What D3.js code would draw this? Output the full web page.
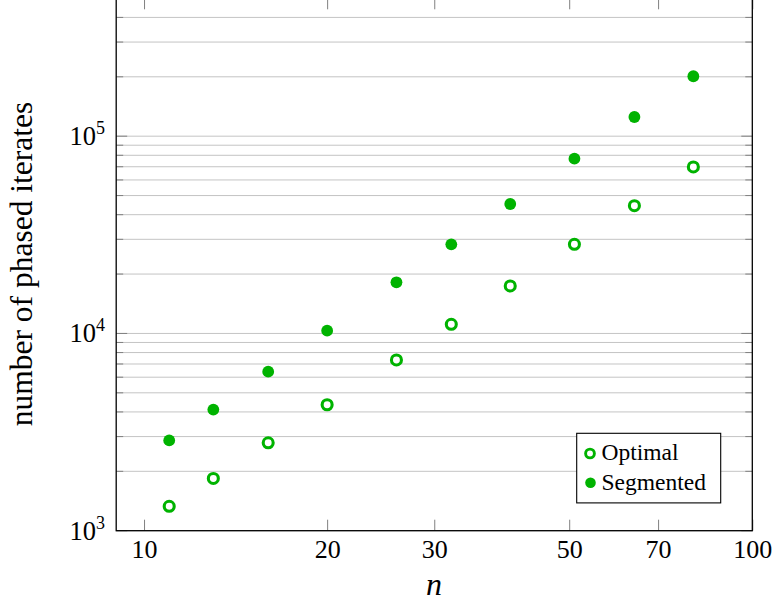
<!DOCTYPE html>
<html>
<head>
<meta charset="utf-8">
<script src="https://cdn.jsdelivr.net/npm/d3@7"></script>
<style>
  html, body { margin: 0; padding: 0; background: #fff; }
  svg { display: block; }
</style>
</head>
<body>
<svg id="chart" width="784" height="602"></svg>
<script>
// Problem sizes and iterate counts for the two methods
const nValues   = [11, 13, 16, 20, 26, 32, 40, 51, 64, 80];
const optimal   = [1330, 1840, 2790, 4350, 7340, 11130, 17400, 28300, 44400, 69800];
const segmented = [2870, 4110, 6400, 10330, 18170, 28300, 45300, 76900, 125100, 201300];
const xTickValues = [10, 20, 30, 50, 70, 100];
const yMajorTicks = [1e3, 1e4, 1e5];
const seriesNames = ["Optimal", "Segmented"];

const green = "#00b300";
const serif = "'Liberation Serif'";
const svg = d3.select("#chart");

const plotLeft = 116.2, plotRight = 752.3, plotBottom = 530.7, plotTop = -1.7;
const x = d3.scaleLog().domain([9, 100]).range([plotLeft, plotRight]);
const y = d3.scaleLog().domain([1e3, 5e5]).range([plotBottom, plotTop]);

// minor values 2..9 in each decade, plus the majors
const yMinor = [];
[1e3, 1e4, 1e5].forEach(b => { for (let k = 2; k <= 9; k++) if (b * k <= 5e5) yMinor.push(b * k); });
const yAll = yMajorTicks.concat(yMinor);

// horizontal grid
svg.append("g").selectAll("line").data(yAll).join("line")
  .attr("x1", plotLeft).attr("x2", plotRight)
  .attr("y1", d => y(d)).attr("y2", d => y(d))
  .attr("stroke", "#c4c4c4").attr("stroke-width", 1);

// x ticks (bottom, inward) with labels
const xAxis = svg.append("g").attr("transform", `translate(0,${plotBottom})`)
  .call(d3.axisBottom(x).tickValues(xTickValues).tickFormat(d3.format("d"))
    .tickSizeInner(-11).tickSizeOuter(0).tickPadding(0));
xAxis.attr("font-family", null).attr("font-size", null);
xAxis.select(".domain").remove();
xAxis.selectAll(".tick line").attr("stroke", "#808080").attr("stroke-width", 1);
xAxis.selectAll(".tick text").attr("dy", null).attr("y", 27.5)
  .style("font-family", serif).style("font-size", "26px").attr("fill", "#000");

// x ticks (top, inward)
const xTop = svg.append("g").attr("transform", `translate(0,${plotTop})`)
  .call(d3.axisTop(x).tickValues(xTickValues).tickFormat("").tickSizeInner(-11).tickSizeOuter(0));
xTop.select(".domain").remove();
xTop.selectAll(".tick line").attr("stroke", "#808080");

// y ticks, left and right, inward; majors longer than minors
function yTicks(g, side) {
  const dir = side === "left" ? 1 : -1;
  const x0 = side === "left" ? plotLeft : plotRight;
  g.selectAll("line.mj").data(yMajorTicks).join("line").attr("class", "mj")
    .attr("x1", x0).attr("x2", x0 + dir * 11)
    .attr("y1", d => y(d)).attr("y2", d => y(d))
    .attr("stroke", "#808080");
  g.selectAll("line.mn").data(yMinor).join("line").attr("class", "mn")
    .attr("x1", x0).attr("x2", x0 + dir * 7)
    .attr("y1", d => y(d)).attr("y2", d => y(d))
    .attr("stroke", "#808080");
}
svg.append("g").call(yTicks, "left");
svg.append("g").call(yTicks, "right");

// y tick labels as 10^k
const yLab = svg.append("g").selectAll("text").data(yMajorTicks).join("text")
  .attr("x", 105).attr("y", d => y(d) + 9)
  .attr("text-anchor", "end").style("font-family", serif).style("font-size", "26.5px").attr("fill", "#000");
yLab.append("tspan").text("10");
yLab.append("tspan").style("font-size", "18px").attr("dy", -11).text(d => Math.round(Math.log10(d)));

// frame
svg.append("rect").attr("x", plotLeft).attr("y", plotTop)
  .attr("width", plotRight - plotLeft).attr("height", plotBottom - plotTop)
  .attr("fill", "none").attr("stroke", "#000").attr("stroke-width", 1.3);

// data marks: open rings for Optimal, filled dots for Segmented
svg.append("g").selectAll("circle").data(nValues.map((n, i) => [n, optimal[i]])).join("circle")
  .attr("cx", d => x(d[0])).attr("cy", d => y(d[1])).attr("r", 5.0)
  .attr("fill", "#fff").attr("stroke", green).attr("stroke-width", 3.1);
svg.append("g").selectAll("circle").data(nValues.map((n, i) => [n, segmented[i]])).join("circle")
  .attr("cx", d => x(d[0])).attr("cy", d => y(d[1])).attr("r", 5.9)
  .attr("fill", green);

// axis labels
svg.append("text").attr("x", 434).attr("y", 595).attr("text-anchor", "middle")
  .style("font-family", serif).style("font-size", "32px").attr("font-style", "italic").text("n");
svg.append("text").attr("transform", "translate(32,264) rotate(-90)")
  .attr("text-anchor", "middle").style("font-family", serif).style("font-size", "31.5px")
  .text("number of phased iterates");

// legend
const lg = svg.append("g");
lg.append("rect").attr("x", 576.7).attr("y", 433.3).attr("width", 144).attr("height", 69.6)
  .attr("fill", "#fff").attr("stroke", "#000").attr("stroke-width", 1.1);
lg.append("circle").attr("cx", 590).attr("cy", 453.5).attr("r", 4.4)
  .attr("fill", "#fff").attr("stroke", green).attr("stroke-width", 2.9);
lg.append("circle").attr("cx", 590.5).attr("cy", 482.7).attr("r", 5.3).attr("fill", green);
lg.selectAll("text").data(seriesNames).join("text")
  .attr("x", 601.5).attr("y", (d, i) => 460 + i * 29.5)
  .style("font-family", serif).style("font-size", "23.5px").text(d => d);
</script>
</body>
</html>
